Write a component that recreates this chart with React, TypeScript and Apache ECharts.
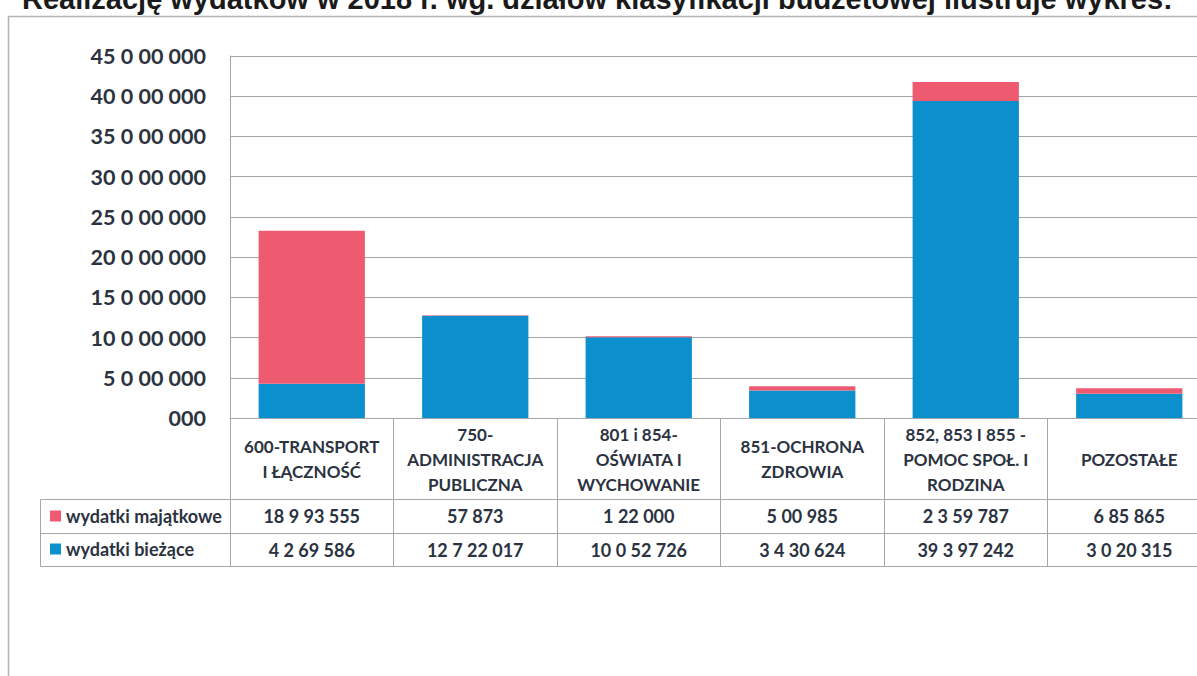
import React, { useEffect, useRef } from "react";
import * as echarts from "echarts";

const categories = [
  "600-TRANSPORT\nI ŁĄCZNOŚĆ",
  "750-\nADMINISTRACJA\nPUBLICZNA",
  "801 i 854-\nOŚWIATA I\nWYCHOWANIE",
  "851-OCHRONA\nZDROWIA",
  "852, 853 I 855 -\nPOMOC SPOŁ. I\nRODZINA",
  "POZOSTAŁE",
];
const seriesNames = ["wydatki majątkowe", "wydatki bieżące"];
const wydatkiMajatkowe = [18993555, 57873, 122000, 500985, 2359787, 685865];
const wydatkiBiezace = [4269586, 12722017, 10052726, 3430624, 39397242, 3020315];
const yTickLabels = [
  "000",
  "5 0 00 000",
  "10 0 00 000",
  "15 0 00 000",
  "20 0 00 000",
  "25 0 00 000",
  "30 0 00 000",
  "35 0 00 000",
  "40 0 00 000",
  "45 0 00 000",
];
const titleText =
  "Realizację wydatków w 2018 r. wg. działów klasyfikacji budżetowej ilustruje wykres:";

const RED = "#ee5b70";
const BLUE = "#0b90cd";
const TEXT = "#2b3240";
const LINE = "#a3a7ab";
const FONT = "Lato, 'Noto Sans', sans-serif";

function fmt(v: number): string {
  if (v === 0) return "000";
  let s = String(Math.round(v));
  const parts: string[] = [];
  parts.unshift(s.slice(-3));
  s = s.slice(0, -3);
  if (s) {
    parts.unshift(s.slice(-2));
    s = s.slice(0, -2);
  }
  if (s) {
    parts.unshift(s.slice(-1));
    s = s.slice(0, -1);
  }
  if (s) parts.unshift(s);
  return parts.join(" ");
}

export default function App() {
  const ref = useRef<HTMLDivElement>(null);
  useEffect(() => {
    if (!ref.current) return;
    const chart = echarts.init(ref.current, null, { renderer: "svg" });
    const labelBase = {
      fontFamily: FONT,
      fontWeight: "bold" as const,
      color: TEXT,
    };
    chart.setOption({
      animation: false,
      backgroundColor: "#ffffff",
      grid: { left: 230, top: 56, right: 0, bottom: 258 },
      legend: {
        data: seriesNames,
        orient: "vertical",
        left: 45,
        top: 502,
        itemWidth: 11,
        itemHeight: 11,
        itemGap: 15,
        icon: "rect",
        selectedMode: false,
        textStyle: { ...labelBase, fontSize: 18 },
      },
      xAxis: [
        {
          type: "category",
          data: categories,
          axisLine: { show: true, lineStyle: { color: LINE, width: 1 } },
          axisTick: {
            show: true,
            interval: 0,
            length: 149,
            lineStyle: { color: LINE, width: 1 },
          },
          axisLabel: {
            ...labelBase,
            interval: 0,
            fontSize: 17,
            lineHeight: 25,
            margin: 41,
            verticalAlign: "middle",
          },
        },
        {
          type: "category",
          data: categories,
          position: "bottom",
          axisLine: { show: false },
          axisTick: { show: false },
          axisLabel: {
            ...labelBase,
            interval: 0,
            fontSize: 18,
            margin: 98,
            verticalAlign: "middle",
            formatter: (_v: string, i: number) => fmt(wydatkiMajatkowe[i]),
          },
        },
        {
          type: "category",
          data: categories,
          position: "bottom",
          axisLine: { show: false },
          axisTick: { show: false },
          axisLabel: {
            ...labelBase,
            interval: 0,
            fontSize: 18,
            margin: 132,
            verticalAlign: "middle",
            formatter: (_v: string, i: number) => fmt(wydatkiBiezace[i]),
          },
        },
      ],
      yAxis: {
        type: "value",
        min: 0,
        max: 45000000,
        interval: 5000000,
        axisLine: { show: true, lineStyle: { color: LINE, width: 1 } },
        axisTick: { show: false },
        splitLine: { lineStyle: { color: LINE, width: 1 } },
        axisLabel: {
          ...labelBase,
          fontSize: 21.5,
          margin: 24,
          formatter: (v: number) => yTickLabels[Math.round(v / 5000000)],
        },
      },
      series: [
        {
          name: seriesNames[1],
          type: "bar",
          stack: "total",
          data: wydatkiBiezace,
          barCategoryGap: "35%",
          itemStyle: { color: BLUE },
        },
        {
          name: seriesNames[0],
          type: "bar",
          stack: "total",
          data: wydatkiMajatkowe,
          barCategoryGap: "35%",
          itemStyle: { color: RED },
        },
      ],
      graphic: [
        {
          type: "text",
          left: 22,
          top: -16,
          style: {
            text: titleText,
            fontFamily: "'Liberation Sans', Arial, sans-serif",
            fontWeight: "bold",
            fontSize: 29,
            fill: "#1a1a1a",
          },
        },
        {
          type: "polyline",
          shape: { points: [[8.5, 676], [8.5, 16.5], [1211, 16.5]] },
          style: { stroke: "#b0b3b6", lineWidth: 1.5, fill: "none" },
        },
        {
          type: "rect",
          shape: { x: 40.5, y: 499.5, width: 190, height: 67 },
          style: { stroke: LINE, lineWidth: 1, fill: "none" },
        },
        {
          type: "line",
          shape: { x1: 40, y1: 533.5, x2: 1211, y2: 533.5 },
          style: { stroke: LINE, lineWidth: 1 },
        },
        {
          type: "line",
          shape: { x1: 230, y1: 499.5, x2: 1211, y2: 499.5 },
          style: { stroke: LINE, lineWidth: 1 },
        },
        {
          type: "line",
          shape: { x1: 230, y1: 566.5, x2: 1211, y2: 566.5 },
          style: { stroke: LINE, lineWidth: 1 },
        },
      ],
    });
    return () => chart.dispose();
  }, []);
  return (
    <div
      ref={ref}
      style={{ position: "fixed", left: 0, top: 0, width: 1211, height: 676 }}
    />
  );
}
